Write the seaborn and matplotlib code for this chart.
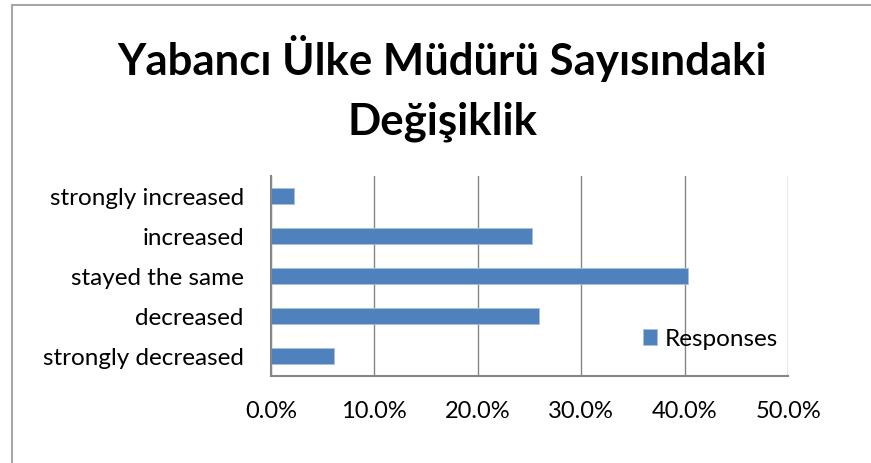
import matplotlib
matplotlib.use("Agg")
import matplotlib.pyplot as plt
import seaborn as sns
import pandas as pd
from matplotlib.ticker import PercentFormatter, FixedLocator
from matplotlib.patches import Rectangle

# data (percent of responses)
categories = ["strongly increased", "increased", "stayed the same", "decreased", "strongly decreased"]
responses = [2.2, 25.2, 40.3, 25.9, 6.1]
series_name = "Responses"
title_text = "Yabancı Ülke Müdürü Sayısındaki\nDeğişiklik"

df = pd.DataFrame({"category": categories, "value": responses})

sns.set_style("white")
plt.rcParams["font.family"] = ["Lato", "DejaVu Sans"]
plt.rcParams["text.color"] = "black"
plt.rcParams["xtick.labelcolor"] = "black"
plt.rcParams["ytick.labelcolor"] = "black"

bar_color = "#4F81BD"
axis_gray = "#868686"

fig = plt.figure(figsize=(8.71, 4.64), dpi=100)
ax = fig.add_axes([0.311, 0.1875, 0.594, 0.4315])

sns.barplot(data=df, x="value", y="category", color=bar_color, width=0.4,
            label=series_name, ax=ax, saturation=1, edgecolor="#A9C0DE", linewidth=0.6)

# axes range and ticks
ax.set_xlim(0, 50)
ax.set_ylim(4.5, -0.5)
ax.xaxis.set_major_locator(FixedLocator([0, 10, 20, 30, 40, 50]))
ax.xaxis.set_major_formatter(PercentFormatter(decimals=1))
ax.set_xlabel("")
ax.set_ylabel("")

# category ticks at boundaries like excel
ax.yaxis.set_minor_locator(FixedLocator([-0.5, 0.5, 1.5, 2.5, 3.5, 4.5]))
ax.tick_params(axis="y", which="major", length=0, pad=19.5, labelsize=17.5)
ax.tick_params(axis="y", which="minor", length=5, width=1.5, color=axis_gray, direction="out")
ax.tick_params(axis="x", which="major", length=5, width=1.5, color=axis_gray,
               direction="out", pad=12, labelsize=17)

# grid
ax.grid(axis="x", color=axis_gray, linewidth=1)
ax.set_axisbelow(True)
for side in ["top", "right"]:
    ax.spines[side].set_visible(False)
for side in ["left", "bottom"]:
    ax.spines[side].set_color(axis_gray)
    ax.spines[side].set_linewidth(1.5)

# legend
ax.legend(loc="center left", bbox_to_anchor=(0.70, 0.185), frameon=False,
          fontsize=17.5, handlelength=0.6, handleheight=0.6, handletextpad=0.3,
          borderaxespad=0)

# title
fig.text(0.508, 0.81, title_text, ha="center", va="center", fontsize=31.5,
         fontweight="bold", linespacing=1.6)

# chart border
fig.patches.append(Rectangle((12 / 871, -0.1), 1.1, 1.1 - 6 / 464, transform=fig.transFigure,
                             fill=False, edgecolor="#A6A6A6", linewidth=1.5))

fig.savefig("out.png", dpi=100)
